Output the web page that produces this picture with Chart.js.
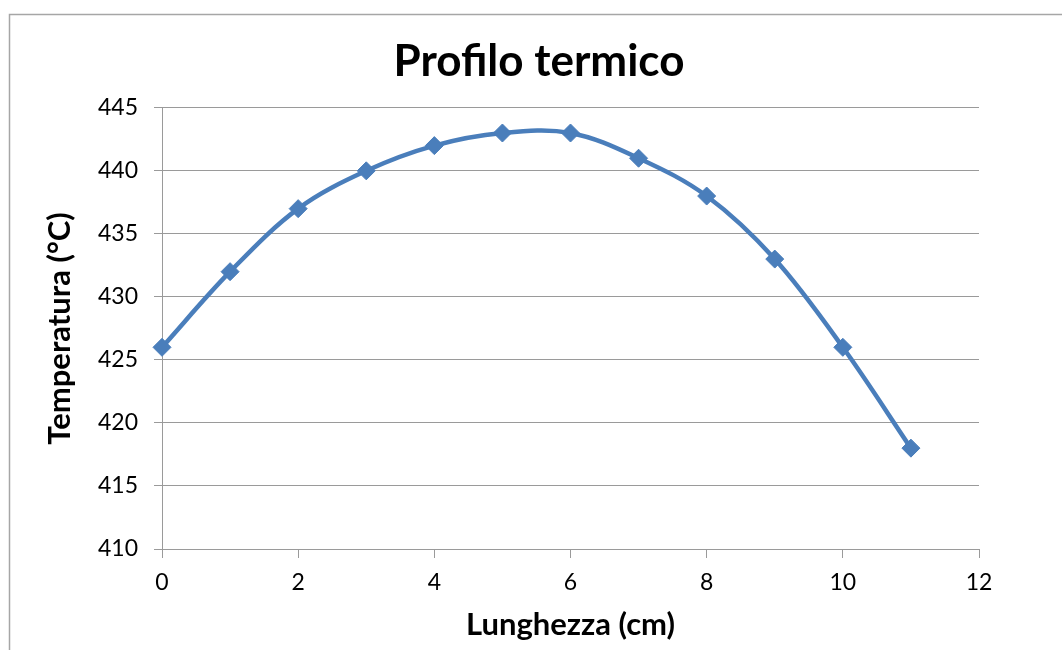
<!DOCTYPE html>
<html>
<head>
<meta charset="utf-8">
<title>Profilo termico</title>
<script src="https://cdn.jsdelivr.net/npm/chart.js@4"></script>
<style>
  html, body { margin: 0; padding: 0; background: #fff; overflow: hidden; }
  #wrap { width: 1062px; height: 650px; position: relative; }
</style>
</head>
<body>
<div id="wrap"><canvas id="chart" width="1062" height="650"></canvas></div>
<script>
// Measured temperature along the rod
const lengthsCm = [0, 1, 2, 3, 4, 5, 6, 7, 8, 9, 10, 11];
const temperaturesC = [426, 432, 437, 440, 442, 443, 443, 441, 438, 433, 426, 418];

const chartTitle = 'Profilo termico';
const xTitle = 'Lunghezza (cm)';
const yTitle = 'Temperatura (°C)';

const FONT = 'Lato, "Open Sans", sans-serif';
const BLUE = '#4A7EBB';
const GRID = '#9a9a9a';

// Thin grey frame around the whole chart object
const frame = {
  id: 'frame',
  afterDraw(chart) {
    const ctx = chart.ctx;
    ctx.save();
    ctx.strokeStyle = '#a6a6a6';
    ctx.lineWidth = 1.5;
    ctx.strokeRect(9.5, 14.5, 2000, 2000);
    ctx.restore();
  }
};

const whiteBg = {
  id: 'whiteBg',
  beforeDraw(chart) {
    const ctx = chart.ctx;
    ctx.save();
    ctx.fillStyle = '#fff';
    ctx.fillRect(0, 0, chart.width, chart.height);
    ctx.restore();
  }
};

new Chart(document.getElementById('chart'), {
  type: 'line',
  data: {
    datasets: [{
      data: lengthsCm.map((x, i) => ({ x, y: temperaturesC[i] })),
      borderColor: BLUE,
      backgroundColor: BLUE,
      borderWidth: 4.5,
      tension: 0.35,
      pointStyle: 'rectRot',
      pointRadius: 9,
      pointBorderWidth: 1,
      pointBorderColor: BLUE,
      pointBackgroundColor: BLUE,
      clip: false
    }]
  },
  options: {
    responsive: false,
    animation: false,
    layout: { padding: { left: 16, right: 0, top: 0, bottom: 0 } },
    plugins: {
      legend: { display: false },
      tooltip: { enabled: false },
      title: {
        display: true,
        text: chartTitle,
        color: '#000',
        font: { family: FONT, size: 44, weight: 'bold' },
        padding: { top: 35, bottom: 20 }
      }
    },
    scales: {
      x: {
        type: 'linear',
        min: 0,
        max: 12,
        afterFit(scale) { scale.height = 101; },
        ticks: {
          stepSize: 2,
          color: '#000',
          padding: 11,
          maxRotation: 0,
          font: { family: FONT, size: 23 }
        },
        grid: {
          drawOnChartArea: false,
          drawTicks: true,
          tickLength: 9,
          color: GRID
        },
        border: { display: true, color: GRID, width: 1 },
        title: {
          display: true,
          text: xTitle,
          color: '#000',
          font: { family: FONT, size: 31, weight: 'bold' },
          padding: { top: 0, bottom: 6 }
        }
      },
      y: {
        type: 'linear',
        min: 410,
        max: 445,
        afterFit(scale) { scale.width = 146; },
        ticks: {
          stepSize: 5,
          color: '#000',
          padding: 16,
          font: { family: FONT, size: 23 }
        },
        grid: {
          color: GRID,
          tickLength: 8,
          lineWidth: 1
        },
        border: { display: true, color: GRID, width: 1 },
        title: {
          display: true,
          text: yTitle,
          color: '#000',
          font: { family: FONT, size: 31, weight: 'bold' },
          padding: { top: 25, bottom: 0 }
        }
      },
      // empty margin to the right of the plot
      rightGap: {
        type: 'linear',
        position: 'right',
        min: 0,
        max: 1,
        afterFit(scale) { scale.width = 83; },
        grid: { display: false },
        border: { display: false },
        ticks: { display: false }
      }
    }
  },
  plugins: [whiteBg, frame]
});
</script>
</body>
</html>
